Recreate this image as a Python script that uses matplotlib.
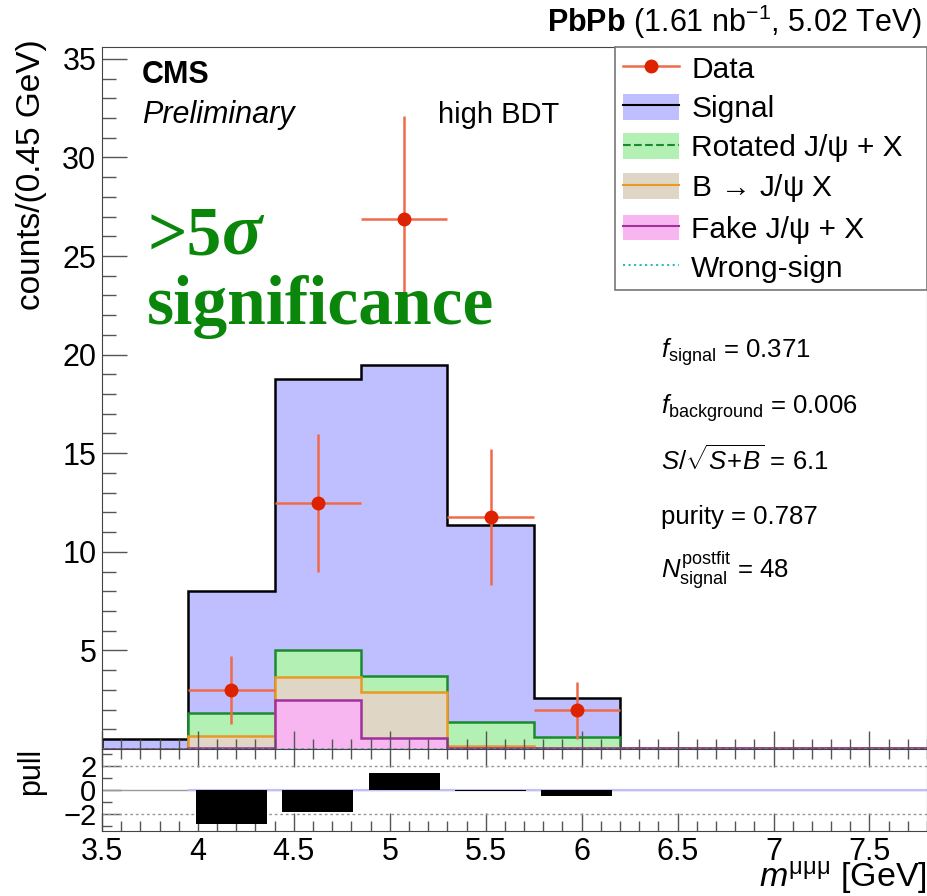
import numpy as np
import matplotlib
matplotlib.use("Agg")
import matplotlib.pyplot as plt
from matplotlib.patches import Patch
from matplotlib.lines import Line2D
from matplotlib.ticker import MultipleLocator, FixedLocator, FormatStrFormatter

plt.rcParams['font.family'] = ['Liberation Sans', 'DejaVu Sans']
plt.rcParams['mathtext.fontset'] = 'custom'
plt.rcParams['mathtext.rm'] = 'Liberation Sans'
plt.rcParams['mathtext.it'] = 'Liberation Sans:italic'
plt.rcParams['mathtext.bf'] = 'Liberation Sans:bold'

# bin edges of m(mumumu), 0.45 GeV bins
edges = [3.5, 3.95, 4.4, 4.85, 5.3, 5.75, 6.2, 6.65, 7.1, 7.55, 8.0]

# stacked components (per bin, not cumulative)
wrongsign = [0.0, 0.01, 0.01, 0.01, 0.01, 0.01, 0.01, 0.01, 0.01, 0.01]
fake      = [0.0, 0.02, 2.45, 0.55, 0.02, 0.02, 0.03, 0.03, 0.03, 0.03]
bjpsi     = [0.0, 0.63, 1.17, 2.34, 0.10, 0.01, 0.0, 0.0, 0.0, 0.0]
rotated   = [0.0, 1.18, 1.37, 0.80, 1.25, 0.57, 0.0, 0.0, 0.0, 0.0]
signal    = [0.5, 6.17, 13.75, 15.77, 10.0, 1.99, 0.0, 0.0, 0.0, 0.0]

# data points
data_x = [4.175, 4.625, 5.075, 5.525, 5.975]
data_y = [2.99, 12.47, 26.9, 11.76, 1.96]
data_err = [1.74, 3.5, 5.2, 3.45, 1.45]
pulls = [-2.85, -1.8, 1.4, -0.05, -0.5]

stats_lines = [r'$f_{\mathrm{signal}}$ = 0.371',
               r'$f_{\mathrm{background}}$ = 0.006',
               r'$S/\sqrt{S\!+\!B}$ = 6.1',
               'purity = 0.787',
               r'$N^{\mathrm{postfit}}_{\mathrm{signal}}$ = 48']
stats_y = [0.5655, 0.486, 0.412, 0.330, 0.255]

c_sig, c_rot, c_b, c_fake = '#bfbfff', '#b3f0b3', '#e0d6c6', '#f7b6ef'
l_rot, l_b, l_fake, l_ws = '#1b8a2e', '#e89a22', '#a0309a', '#30b8b8'
red, red_err = '#dd2200', '#f06a4a'
green_txt = '#0a870a'

fig = plt.figure(figsize=(9.27, 8.96), dpi=100)
ax = fig.add_axes([0.110, 0.1641, 0.890, 0.7834])
ax2 = fig.add_axes([0.110, 0.0725, 0.890, 0.0916], sharex=ax)

# cumulative stack, drawn from the top down like ROOT
layers = [wrongsign, fake, bjpsi, rotated, signal]
cum = np.cumsum(np.array(layers), axis=0)
fills = [None, c_fake, c_b, c_rot, c_sig]
lines = [(l_ws, ':'), (l_fake, '-'), (l_b, '-'), (l_rot, '-'), ('black', '-')]
for i in range(4, -1, -1):
    if fills[i] is not None:
        ax.stairs(cum[i], edges, fill=True, color=fills[i], lw=0)
    ax.stairs(cum[i], edges, color=lines[i][0], ls=lines[i][1], lw=1.8)

ax.errorbar(data_x, data_y, yerr=data_err, xerr=0.225, fmt='o', color=red,
            ecolor=red_err, elinewidth=1.8, ms=9, capsize=0, zorder=5)

ax.set_xlim(3.5, 7.8)
ax.set_ylim(0, 35.6)
ax.yaxis.set_major_locator(FixedLocator([5, 10, 15, 20, 25, 30, 35]))
ax.yaxis.set_minor_locator(MultipleLocator(1))
ax.xaxis.set_major_locator(MultipleLocator(0.5))
ax.xaxis.set_minor_locator(MultipleLocator(0.1))
ax.tick_params(axis='y', which='major', direction='in', length=18, width=1, colors='#555555', labelcolor='black', labelsize=22, pad=4)
ax.tick_params(axis='y', which='minor', direction='in', length=10, width=1, colors='#555555')
ax.tick_params(axis='x', which='major', direction='in', length=13, width=1, colors='#555555')
ax.tick_params(axis='x', which='minor', direction='in', length=7, width=1, colors='#555555')
ax.tick_params(axis='x', labelbottom=False)
for s in ax.spines.values():
    s.set_color('#444444')
fig.text(0.0335, 0.956, 'counts/(0.45 GeV)', fontsize=24, rotation=90, ha='center', va='top')

# legend
handles = [Line2D([], [], color=red_err, lw=1.8, marker='o', mfc=red, mec=red, ms=9),
           (Patch(fc=c_sig, ec='none'), Line2D([], [], color='black', lw=1.5)),
           (Patch(fc=c_rot, ec='none'), Line2D([], [], color=l_rot, lw=1.5, ls='--')),
           (Patch(fc=c_b, ec='none'), Line2D([], [], color=l_b, lw=1.5)),
           (Patch(fc=c_fake, ec='none'), Line2D([], [], color=l_fake, lw=1.5)),
           Line2D([], [], color=l_ws, lw=1.5, ls=':')]
labels = ['Data', 'Signal', 'Rotated J/ψ + X', r'B$\,\rightarrow\,$J/ψ X', 'Fake J/ψ + X', 'Wrong-sign']
leg = ax.legend(handles, labels, loc='upper left', bbox_to_anchor=(0.622, 0.0, 0.378, 1.0),
                mode='expand', borderaxespad=0, fontsize=21.5, fancybox=False, framealpha=1,
                edgecolor='#777777', handlelength=1.9, handleheight=0.95,
                handletextpad=0.4, labelspacing=0.34, borderpad=0.25)
leg.get_frame().set_linewidth(1.2)

# labels inside the frame
ax.text(0.0485, 0.960, 'CMS', transform=ax.transAxes, fontsize=22, weight='bold', va='center')
ax.text(0.0485, 0.903, 'Preliminary', transform=ax.transAxes, fontsize=22, style='italic', va='center')
ax.text(0.407, 0.903, 'high BDT', transform=ax.transAxes, fontsize=21, va='center')
t1 = ax.text(0.055, 0.705, '>5', transform=ax.transAxes, fontsize=50, weight='bold',
             family='Liberation Serif', color=green_txt, va='baseline', zorder=10)
ax.annotate('σ', xy=(1, 0), xycoords=t1, fontsize=54, weight='bold', style='italic',
            family='Liberation Serif', color=green_txt, va='bottom', zorder=10)
ax.text(0.055, 0.605, 'significance', transform=ax.transAxes, fontsize=50, weight='bold',
        family='Liberation Serif', color=green_txt, va='baseline', zorder=10)
for s, yy in zip(stats_lines, stats_y):
    ax.text(0.677, yy, s, transform=ax.transAxes, fontsize=18.5, va='center')

fig.text(0.995, 0.9643, r'$\mathbf{PbPb}$ (1.61 nb$^{-1}$, 5.02 TeV)', fontsize=22,
         ha='right', va='baseline')

# pull panel
ax2.axhline(0, color='#999999', lw=1)
ax2.hlines(0, edges[1], 7.8, color=c_sig, lw=1.5)
for v in (-2, 2):
    ax2.axhline(v, color='#999999', lw=1, ls=(0, (2, 2)))
ax2.bar(data_x, pulls, width=0.37, color='black', zorder=3)
ax2.set_ylim(-3.4, 3.4)
ax2.yaxis.set_major_locator(FixedLocator([-2, 0, 2]))
ax2.yaxis.set_minor_locator(MultipleLocator(1))
ax2.set_yticklabels(['−2', '0', '2'])
ax2.xaxis.set_major_formatter(FormatStrFormatter('%g'))
ax2.tick_params(axis='y', which='major', direction='in', length=14, width=1, colors='#555555', labelcolor='black', labelsize=21, pad=4)
ax2.tick_params(axis='y', which='minor', direction='in', length=7, width=1, colors='#555555')
ax2.tick_params(axis='x', which='major', direction='in', length=13, width=1, top=True, colors='#555555', labelcolor='black', labelsize=22, pad=4)
ax2.tick_params(axis='x', which='minor', direction='in', length=7, width=1, top=True, colors='#555555')
for s in ax2.spines.values():
    s.set_color('#444444')
fig.text(0.0335, 1 - 771 / 896, 'pull', fontsize=22, rotation=90, ha='center', va='center')

fig.text(1.0, 0.0105, r'$m^{\mathrm{μμμ}}$ [GeV]', fontsize=24.5, ha='right', va='baseline')

fig.savefig('out.png', dpi=100)
